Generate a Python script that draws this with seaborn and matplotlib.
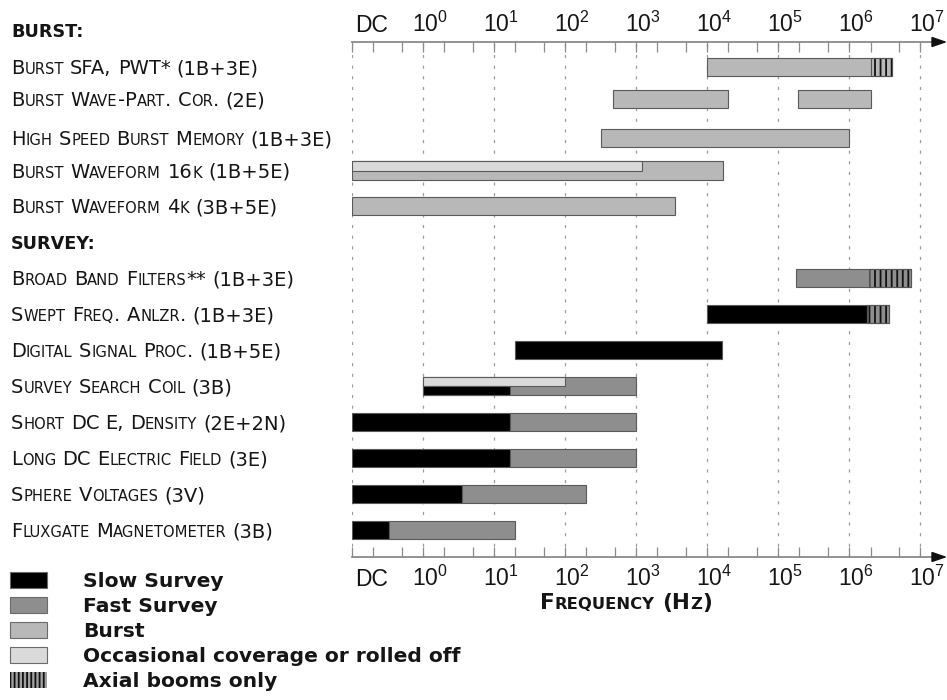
import math
import matplotlib
matplotlib.use("Agg")
import matplotlib.pyplot as plt
from matplotlib.patches import Rectangle, Polygon
import seaborn as sns

# ---------------------------------------------------------------- data
DC = 0.1  # DC sits one decade below 10^0 on the log axis

instruments = [
    "Burst SFA, PWT* (1B+3E)",
    "Burst Wave-Part. Cor. (2E)",
    "High Speed Burst Memory (1B+3E)",
    "Burst Waveform 16k (1B+5E)",
    "Burst Waveform 4k (3B+5E)",
    "Broad Band Filters** (1B+3E)",
    "Swept Freq. Anlzr. (1B+3E)",
    "Digital Signal Proc. (1B+5E)",
    "Survey Search Coil (3B)",
    "Short DC E, Density (2E+2N)",
    "Long DC Electric Field (3E)",
    "Sphere Voltages (3V)",
    "Fluxgate Magnetometer (3B)",
]
sections = ["BURST:", "SURVEY:"]

# frequency coverage segments (Hz); band = which half of the row is filled
seg_instrument = [0, 0, 1, 1, 2, 3, 3, 4,
                  5, 5, 6, 6, 6, 7, 8, 8, 8,
                  9, 9, 10, 10, 11, 11, 12, 12]
seg_mode = ["burst", "axial", "burst", "burst", "burst", "burst", "occasional", "burst",
            "fast", "axial", "slow", "fast", "axial", "slow", "fast", "occasional", "slow",
            "slow", "fast", "slow", "fast", "slow", "fast", "slow", "fast"]
seg_lo = [1e4, 2.0e6, 480, 1.9e5, 320, DC, DC, DC,
          1.8e5, 1.9e6, 1e4, 1.8e6, 1.8e6, 20, 1.0, 1.0, 1.0,
          DC, 17, DC, 17, DC, 3.5, DC, 0.33]
seg_hi = [4.0e6, 4.0e6, 2.0e4, 2.0e6, 1.0e6, 1.7e4, 1.2e3, 3.5e3,
          7.4e6, 7.4e6, 1.8e6, 3.7e6, 3.7e6, 1.6e4, 1e3, 100, 17,
          17, 1e3, 17, 1e3, 3.5, 200, 0.33, 20]
seg_band = ["full", "full", "full", "full", "full", "full", "top", "full",
            "full", "full", "full", "full", "full", "full", "full", "top", "bottom",
            "full", "full", "full", "full", "full", "full", "full", "full"]

legend_modes = ["slow", "fast", "burst", "occasional", "axial"]
legend_labels = ["Slow Survey", "Fast Survey", "Burst",
                 "Occasional coverage or rolled off", "Axial booms only"]
decades = list(range(0, 8))

# ---------------------------------------------------------------- style
sns.set_theme(style="white")
plt.rcParams["font.family"] = ["DejaVu Sans"]
plt.rcParams["mathtext.fontset"] = "custom"
plt.rcParams["mathtext.rm"] = "Liberation Sans"
plt.rcParams["mathtext.it"] = "Liberation Sans:italic"
plt.rcParams["mathtext.bf"] = "Liberation Sans:bold"
plt.rcParams["hatch.linewidth"] = 1.3

colors = {"slow": "#000000", "fast": "#8e8e8e", "burst": "#b8b8b8",
          "occasional": "#dadada"}
TEXT = "#151515"
AXC = "#8a8a8a"
TICK_FONT = ["Liberation Sans", "DejaVu Sans"]

W, H = 947, 700
fig = plt.figure(figsize=(W / 100, H / 100), dpi=100)
fig.patch.set_facecolor("white")


def fx(x):
    return x / W


def fy(y):
    return 1 - y / H


AX_L, AX_R, AX_T, AX_B = 352, 945, 42, 557
ax = fig.add_axes([fx(AX_L), fy(AX_B), fx(AX_R - AX_L), (AX_B - AX_T) / H])
ax.set_xscale("log")
ax.set_xlim(DC, 10 ** 7.35)
ax.set_ylim(AX_B, AX_T)

row_y = [67, 99, 138, 170.5, 206, 278, 314, 350, 386, 422, 458, 494, 530]
section_y = [31, 243]
BAR_H = 18.5

# ---------------------------------------------------------------- bars
order = {"full": 0, "top": 1, "bottom": 1}
idx = sorted(range(len(seg_mode)),
             key=lambda i: (seg_mode[i] == "axial", order[seg_band[i]]))
for i in idx:
    yc = row_y[seg_instrument[i]]
    band = seg_band[i]
    h = BAR_H if band == "full" else BAR_H / 2
    if band == "top":
        yc = yc - BAR_H / 4
    elif band == "bottom":
        yc = yc + BAR_H / 4
    lo, hi = seg_lo[i], seg_hi[i]
    if seg_mode[i] == "axial":
        ax.barh(yc, hi - lo, left=lo, height=h, facecolor="none",
                edgecolor="#111111", linewidth=0, hatch="|||", zorder=4)
        ax.barh(yc, hi - lo, left=lo, height=h, facecolor="none",
                edgecolor="#555555", linewidth=0.8, zorder=5)
    else:
        ax.barh(yc, hi - lo, left=lo, height=h, color=colors[seg_mode[i]],
                edgecolor="#5a5a5a", linewidth=0.8, zorder=3)

# ---------------------------------------------------------------- axes
major = [DC] + [10.0 ** d for d in decades]
minor = [m * 10.0 ** d for d in range(-1, 7) for m in (2, 5)]
ax.set_xticks(major)
ax.set_xticks(minor, minor=True)
ax.set_yticks([])
ax.grid(True, axis="x", which="major", linestyle=(0, (2.5, 6)),
        color="#9c9c9c", linewidth=0.9, zorder=0)
ax.grid(False, axis="y")
ax.tick_params(axis="x", which="both", top=True, bottom=True, direction="in",
               length=7, width=0.9, color=AXC, labelbottom=False, labeltop=False)
for s in ("left", "right"):
    ax.spines[s].set_visible(False)
for s in ("top", "bottom"):
    ax.spines[s].set_color(AXC)
    ax.spines[s].set_linewidth(1.3)

for yy in (AX_T, AX_B):
    tri = Polygon([(fx(AX_R), fy(yy)), (fx(AX_R - 13), fy(yy - 4.5)),
                   (fx(AX_R - 13), fy(yy + 4.5))], closed=True,
                  transform=fig.transFigure, color="#111111", zorder=10)
    fig.add_artist(tri)

TICK_FS = 16.5
for yfrac, dy in ((1, 10), (0, -29)):
    for x in major:
        if x == DC:
            txt, dx = "DC", 3
        else:
            txt, dx = r"$\mathregular{10^{%d}}$" % round(math.log10(x)), -11
        ax.annotate(txt, xy=(x, yfrac), xycoords=("data", "axes fraction"),
                    xytext=(dx, dy), textcoords="offset pixels",
                    ha="left", va="baseline", fontsize=TICK_FS, color=TEXT,
                    family=TICK_FONT)

# ---------------------------------------------------------------- small caps text
renderer = fig.canvas.get_renderer()
CAP = 0.365  # half the cap height of the text face, in em


def text_width(s, size, weight):
    t = fig.text(0, 0, s, fontsize=size, fontweight=weight)
    w = t.get_window_extent(renderer).width
    t.remove()
    return w


def small_caps(x, y, s, size, weight="normal", ratio=0.76, color=TEXT, draw=True):
    """Lay out s from pixel x with its baseline at pixel y; lowercase as small caps."""
    space = text_width("I I", size, weight) - text_width("II", size, weight)
    runs = []
    for ch in s:
        if ch == " ":
            runs.append((" ", None))
            continue
        small = ch.islower()
        if runs and runs[-1][1] is small:
            runs[-1] = (runs[-1][0] + ch, small)
        else:
            runs.append((ch, small))
    x0 = x
    for chunk, small in runs:
        if small is None:
            x += space
            continue
        fs = size * ratio if small else size
        t = fig.text(fx(x), fy(y), chunk.upper(), fontsize=fs, fontweight=weight,
                     color=color, ha="left", va="baseline")
        x += t.get_window_extent(renderer).width
        if not draw:
            t.remove()
    return x - x0


LABEL_FS = 14.0
for name, yc in zip(instruments, row_y):
    small_caps(11, yc + CAP * LABEL_FS * 100 / 72, name, LABEL_FS)

SEC_FS = 12.7
for name, yc in zip(sections, section_y):
    fig.text(fx(11), fy(yc + CAP * SEC_FS * 100 / 72), name, fontsize=SEC_FS,
             fontweight="bold", color=TEXT, ha="left", va="baseline")

# x-axis title
XT_FS = 15.5
title = "Frequency (Hz)"
tw = small_caps(0, -100, title, XT_FS, weight="bold", draw=False)
small_caps(626 - tw / 2, 609, title, XT_FS, weight="bold")

# ---------------------------------------------------------------- legend
LEG_FS = 14.6
leg_y = [580, 605, 630, 655, 680]
for mode, label, yc in zip(legend_modes, legend_labels, leg_y):
    if mode == "axial":
        r = Rectangle((fx(10), fy(yc + 8)), 37 / W, 16 / H, transform=fig.transFigure,
                      facecolor="#a0a0a0", edgecolor="#111111", linewidth=0,
                      hatch="||||")
    else:
        r = Rectangle((fx(10), fy(yc + 8)), 37 / W, 16 / H, transform=fig.transFigure,
                      facecolor=colors[mode], edgecolor="#6a6a6a", linewidth=0.8)
    fig.add_artist(r)
    fig.text(fx(83), fy(yc + CAP * LEG_FS * 100 / 72), label, fontsize=LEG_FS,
             fontweight="bold", color=TEXT, ha="left", va="baseline")

fig.savefig("out.png", dpi=100, facecolor="white")
